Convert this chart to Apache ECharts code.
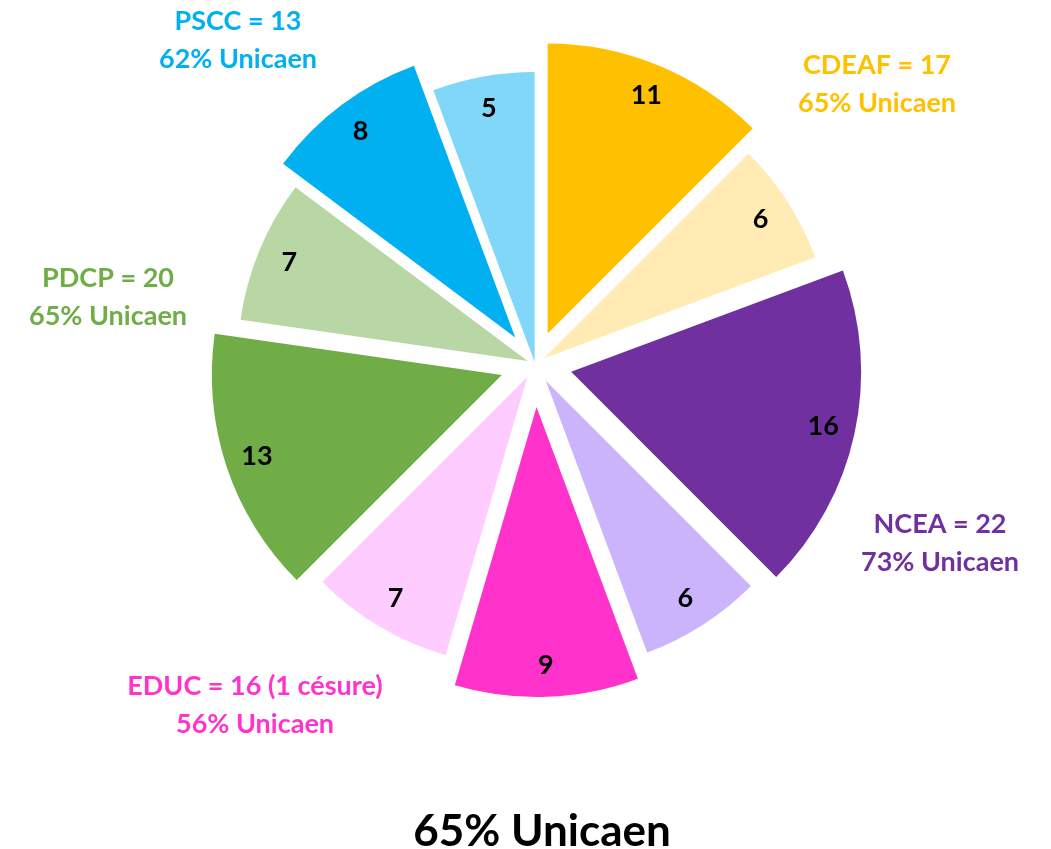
<!DOCTYPE html>
<html>
<head>
<meta charset="utf-8">
<script src="https://cdn.jsdelivr.net/npm/echarts@6/dist/echarts.min.js"></script>
<style>
  html, body { margin: 0; padding: 0; background: #fff; }
  #chart { width: 1051px; height: 849px; }
</style>
</head>
<body>
<div id="chart"></div>
<script>
// slices, clockwise from 12 o'clock
const sliceValues = [11, 6, 16, 6, 9, 7, 13, 7, 8, 5];
const sliceColors = ['#FFC000', '#FFEBB3', '#7030A0', '#CBB4FC', '#FF33CC', '#FFCCFF', '#70AD47', '#B9D6A5', '#00B0F0', '#80D7F8'];
const sliceExplode = [33, 10, 37, 20, 43, 15, 35, 8, 33, 2];

// groups (two slices each)
const groupNames = ['CDEAF', 'NCEA', 'EDUC', 'PDCP', 'PSCC'];
const groupTotals = [17, 22, 16, 20, 13];
const groupNotes = ['', '', ' (1 césure)', '', ''];
const groupShares = [65, 73, 56, 65, 62];
const groupColors = ['#FFC000', '#7030A0', '#FF33CC', '#70AD47', '#00B0F0'];
const groupLabelPos = [[877, 84], [940, 543], [255, 705], [108, 297], [238, 40]];

const totalShare = 65;

const pieCenter = [535, 364];
const pieRadius = 290;
const font = 'Lato';
const none = 'rgba(0,0,0,0)';

const chart = echarts.init(document.getElementById('chart'));

// each slice gets its own series so that it can have its own explosion;
// the library lays out all values, only slice i is painted
function sliceSeries(i, withLabel) {
  return {
    type: 'pie',
    center: pieCenter,
    radius: withLabel ? [pieRadius - 70, pieRadius] : [0, pieRadius],
    startAngle: 90,
    clockwise: true,
    selectedMode: 'single',
    selectedOffset: sliceExplode[i],
    silent: true,
    avoidLabelOverlap: false,
    emphasis: { disabled: true },
    select: { itemStyle: { borderWidth: 0 } },
    itemStyle: { borderWidth: 0 },
    labelLine: { show: false },
    label: {
      show: withLabel,
      position: 'inside',
      formatter: '{c}',
      color: '#000',
      fontFamily: font,
      fontWeight: 'bold',
      fontSize: 27
    },
    data: sliceValues.map((v, j) => ({
      value: v,
      selected: j === i,
      itemStyle: { color: (j === i && !withLabel) ? sliceColors[i] : none },
      label: { show: withLabel && j === i }
    }))
  };
}

const series = [];
sliceValues.forEach((v, i) => series.push(sliceSeries(i, false)));
sliceValues.forEach((v, i) => series.push(sliceSeries(i, true)));

const groupTexts = groupNames.map((name, i) => ({
  type: 'text',
  x: groupLabelPos[i][0],
  y: groupLabelPos[i][1],
  silent: true,
  style: {
    text: name + ' = ' + groupTotals[i] + groupNotes[i] + '\n' + groupShares[i] + '% Unicaen',
    fill: groupColors[i],
    font: 'bold 27px ' + font,
    lineHeight: 38,
    align: 'center',
    verticalAlign: 'middle'
  }
}));

chart.setOption({
  animation: false,
  title: {
    text: totalShare + '% Unicaen',
    left: 537,
    textAlign: 'center',
    top: 805,
    textStyle: { fontFamily: font, fontWeight: 'bold', fontSize: 44, color: '#000' }
  },
  series: series,
  graphic: groupTexts
});
</script>
</body>
</html>
